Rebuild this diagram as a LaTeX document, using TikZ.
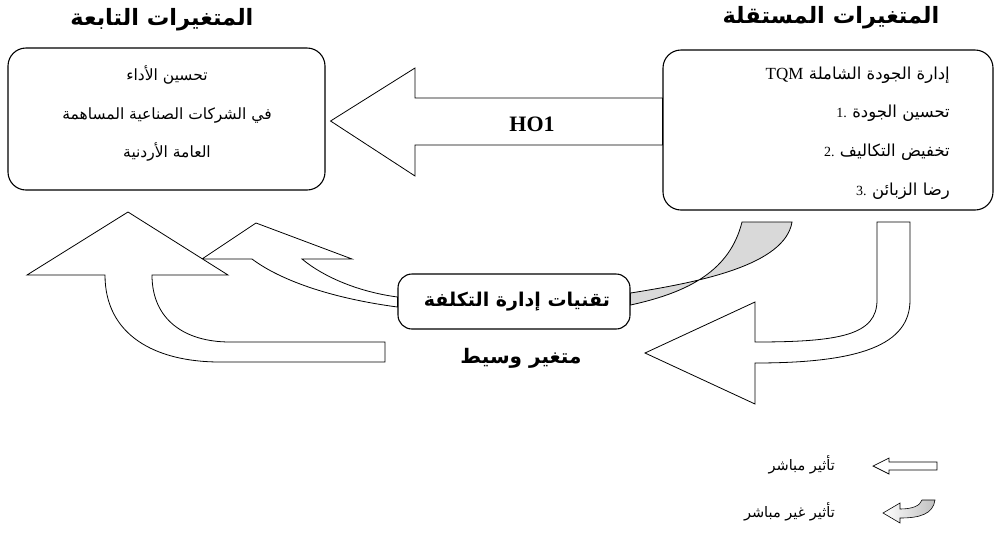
\documentclass[tikz,border=0pt]{standalone}
\usepackage{fontspec}
\newfontfamily\arabicfont[Script=Arabic]{DejaVu Sans}
\newfontfamily\timesfont{Liberation Serif}
\TeXXeTstate=1
\usetikzlibrary{calc,backgrounds}
\begin{document}
\begin{tikzpicture}[x=1pt,y=-1pt,
  box/.style={draw, line width=1.1pt, rounded corners=18pt, fill=white, inner sep=0pt},
  blockarrow/.style={draw, line width=0.8pt, fill=white, line join=miter},
  grayarrow/.style={draw, line width=0.8pt, fill=black!15},
  artxt/.style={font=\arabicfont\fontsize{15.5}{18}\selectfont, inner sep=0pt},
  rtxt/.style={font=\arabicfont\fontsize{16.5}{19}\selectfont, inner sep=0pt, anchor=east},
  numtxt/.style={font=\timesfont\fontsize{14}{16}\selectfont, inner sep=0pt, anchor=base east},
  legtxt/.style={font=\arabicfont\fontsize{14.5}{17}\selectfont, inner sep=0pt},
  heading/.style={font=\arabicfont\bfseries\fontsize{22.5}{26}\selectfont, inner sep=0pt},
  medtxt/.style={font=\arabicfont\bfseries\fontsize{19}{22}\selectfont, inner sep=0pt}
]
\useasboundingbox (0,0) rectangle (998,547);

% boxes
\node[box, minimum width=317pt, minimum height=142pt] (dep) at (166.5,119) {};
\node[box, minimum width=330pt, minimum height=160pt] (indep) at (828,130) {};
\node[box, rounded corners=14pt, minimum width=232pt, minimum height=55pt] (med) at (514,301.5) {};

% arrows on background
\begin{scope}[on background layer]
% HO1 direct arrow
\draw[blockarrow] ($(dep.east)+(5,2)$) -- (415,68) -- (415,98) -- ($(indep.west)+(0,-32)$)
  -- ($(indep.west)+(0,15)$) -- (415,145) -- (415,176) -- cycle;
% gray indirect arrow from indep to med
\draw[grayarrow] (742,222) -- (792,222) .. controls (785,265) and (700,282) .. ($(med.east)+(0,-8.5)$)
  -- ($(med.east)+(0,3.5)$) .. controls (690,292) and (730,270) .. (742,222) -- cycle;
% down arrow on the right
\draw[blockarrow] (877,222) -- (910,222) -- (910,300) .. controls (910,345) and (860,363) .. (755,363)
  -- (755,404) -- (645,353) -- (755,302) -- (755,342) .. controls (840,342) and (877,335) .. (877,300) -- cycle;
% second up arrow (behind)
\draw[blockarrow] (256,223) -- (352,259) -- (302,259) .. controls (325,278) and (360,292) .. ($(med.west)+(0,-4.5)$)
  -- ($(med.west)+(0,5.5)$) .. controls (330,298) and (280,280) .. (252,259) -- (202,259) -- cycle;
% big up arrow
\draw[blockarrow] (128,212) -- (228,275) -- (152,275) .. controls (152,320) and (185,342) .. (230,342)
  -- (385,342) -- (385,362) -- (220,362) .. controls (155,362) and (105,335) .. (105,275) -- (27,275) -- cycle;
\end{scope}

% headings
\node[heading] (h1) at (162,20) {\beginR المتغيرات التابعة\endR};
\node[heading] (h2) at (831,18) {\beginR المتغيرات المستقلة\endR};

% dependent texts
\node[artxt] (d1) at (167,75) {\beginR تحسين الأداء\endR};
\node[artxt] (d2) at (167,115) {\beginR في الشركات الصناعية المساهمة\endR};
\node[artxt] (d3) at (167,152) {\beginR العامة الأردنية\endR};

% independent texts
\node[rtxt] (i1) at (950,75) {\beginR إدارة الجودة الشاملة\endR};
\node[font=\timesfont\fontsize{17}{19}\selectfont, inner sep=0pt, anchor=base east] (tqm) at ([xshift=-5pt]i1.base west) {TQM};
\node[rtxt] (i2) at (950,113) {\beginR تحسين الجودة\endR};
\node[numtxt] (n2) at ([xshift=-5pt]i2.base west) {1.};
\node[rtxt] (i3) at (950,152) {\beginR تخفيض التكاليف\endR};
\node[numtxt] (n3) at ([xshift=-5pt]i3.base west) {2.};
\node[rtxt] (i4) at (950,191) {\beginR رضا الزبائن\endR};
\node[numtxt] (n4) at ([xshift=-5pt]i4.base west) {3.};

% HO1
\node[font=\timesfont\bfseries\fontsize{22}{24}\selectfont, inner sep=0pt] (ho) at (532,124) {HO1};

% mediator
\node[medtxt] (mt) at (517,302) {\beginR تقنيات إدارة التكلفة\endR};
\node[font=\arabicfont\bfseries\fontsize{20}{24}\selectfont, inner sep=0pt] (mv) at (521,358) {\beginR متغير وسيط\endR};

% legend
\draw[blockarrow, line width=0.7pt] (873,466) -- (889,458) -- (889,462) -- (937,462) -- (937,470)
  -- (889,470) -- (889,474) -- cycle;
\draw[line width=0.6pt, left color=white, right color=black!25] (883,513) -- (900,503) -- (900,509)
  .. controls (912,509) and (920,506) .. (922,500) -- (935,500) .. controls (933,514) and (920,518) .. (900,518)
  -- (900,523) -- cycle;
\node[legtxt, anchor=east] (l1) at (835,465) {\beginR تأثير مباشر\endR};
\node[legtxt, anchor=east] (l2) at (835,512) {\beginR تأثير غير مباشر\endR};
\end{tikzpicture}
\end{document}
